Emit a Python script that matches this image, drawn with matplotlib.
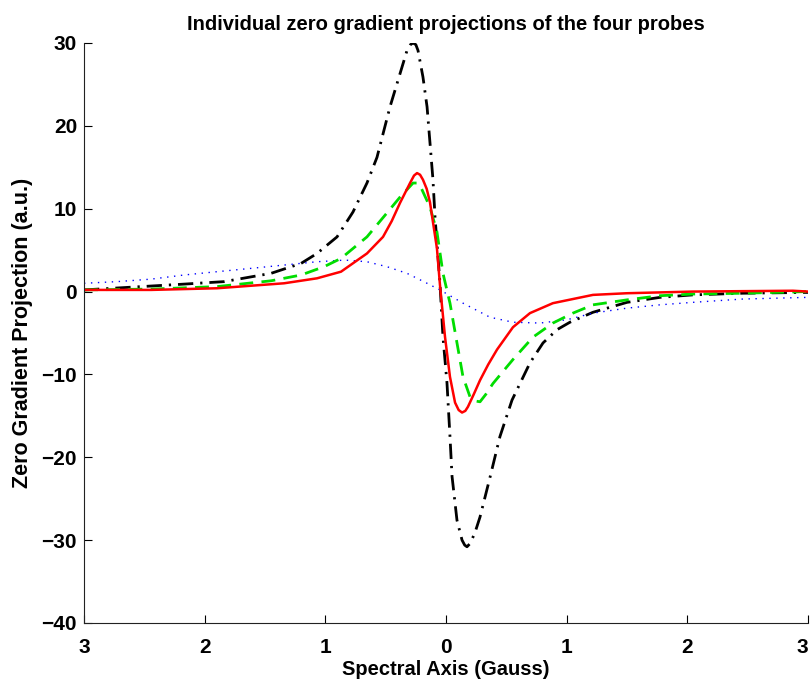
import matplotlib
matplotlib.use("Agg")
import matplotlib.pyplot as plt

plt.rcParams['font.family'] = ['Liberation Sans', 'DejaVu Sans']

# ---- data (x in Gauss, y in a.u.) ----
black_x = [-3.0, -2.585, -2.171, -1.839, -1.450, -1.201, -1.069, -0.903, -0.771, -0.655,
           -0.572, -0.464, -0.381, -0.323, -0.295, -0.273, -0.250, -0.232, -0.191, -0.157,
           -0.133, -0.108, -0.091, -0.050, -0.025, 0.008, 0.033, 0.050, 0.091, 0.133,
           0.155, 0.174, 0.200, 0.240, 0.282, 0.365, 0.447, 0.547, 0.696, 0.804,
           0.920, 1.027, 1.218, 1.500, 1.773, 2.046, 2.461, 3.0]
black_y = [0.2, 0.55, 0.9, 1.2, 2.2, 3.4, 4.6, 6.6, 9.6, 13.1,
           16.2, 22.3, 26.3, 29.1, 29.8, 30.0, 29.8, 29.1, 25.9, 22.3,
           18.0, 13.5, 9.0, 1.0, -5.5, -11.0, -17.5, -22.3, -27.6, -30.0,
           -30.6, -30.8, -30.4, -29.1, -27.2, -22.4, -17.5, -13.1, -8.6, -6.2,
           -4.6, -3.7, -2.5, -1.3, -0.7, -0.4, -0.2, -0.1]

red_x = [-3.0, -2.444, -1.897, -1.342, -1.069, -0.870, -0.655, -0.522, -0.450, -0.381,
         -0.298, -0.265, -0.240, -0.215, -0.191, -0.160, -0.133, -0.075, -0.050, -0.008,
         0.033, 0.075, 0.105, 0.133, 0.160, 0.182, 0.230, 0.282, 0.350, 0.423,
         0.555, 0.696, 0.886, 1.085, 1.218, 1.500, 2.046, 2.875, 3.0]
red_y = [0.2, 0.2, 0.4, 1.0, 1.6, 2.4, 4.6, 6.6, 8.5, 10.7,
         13.1, 14.0, 14.3, 14.1, 13.5, 12.4, 10.8, 5.2, 0.8, -5.5,
         -10.3, -13.4, -14.3, -14.6, -14.4, -13.9, -12.4, -10.7, -8.8, -7.0,
         -4.3, -2.6, -1.4, -0.8, -0.4, -0.2, 0.0, 0.1, 0.0]

green_x = [-3.0, -2.444, -1.897, -1.450, -1.201, -1.011, -0.870, -0.655, -0.489, -0.381,
           -0.273, -0.240, -0.215, -0.133, -0.075, -0.025, 0.033, 0.091, 0.141, 0.199,
           0.240, 0.282, 0.330, 0.389, 0.555, 0.721, 0.886, 1.052, 1.218, 1.500,
           1.773, 2.046, 2.461, 3.0]
green_y = [0.2, 0.3, 0.6, 1.3, 2.0, 3.0, 4.0, 6.6, 9.5, 11.4,
           13.1, 13.1, 12.8, 10.2, 7.2, 2.2, -1.4, -6.2, -10.3, -12.7,
           -13.2, -13.3, -12.4, -11.1, -8.2, -5.5, -3.8, -2.6, -1.6, -1.0,
           -0.5, -0.3, -0.2, 0.0]

blue_x = [-3.0, -2.726, -2.444, -2.171, -1.897, -1.616, -1.342, -1.069, -0.837, -0.655,
          -0.489, -0.323, -0.157, -0.050, 0.141, 0.365, 0.555, 0.779, 1.002, 1.218,
          1.500, 1.773, 2.046, 2.461, 3.0]
blue_y = [1.0, 1.2, 1.5, 2.0, 2.4, 2.8, 3.2, 3.6, 3.8, 3.6,
          3.0, 2.2, 1.0, 0.2, -1.4, -3.1, -3.7, -3.8, -3.4, -2.6,
          -2.0, -1.6, -1.3, -0.9, -0.7]

x_ticks = [-3, -2, -1, 0, 1, 2, 3]
x_ticklabels = ['3', '2', '1', '0', '1', '2', '3']
y_ticks = [-40, -30, -20, -10, 0, 10, 20, 30]
y_ticklabels = ['\u221240', '\u221230', '\u221220', '\u221210', '0', '10', '20', '30']

title = 'Individual zero gradient projections of the four probes'
xlabel = 'Spectral Axis (Gauss)'
ylabel = 'Zero Gradient Projection (a.u.)'

fig = plt.figure(figsize=(8.12, 6.82), dpi=100)
ax = fig.add_axes([84/812, 59/682, 724/812, 580/682])

ax.plot(black_x, black_y, color='black', lw=2.0, linestyle=(0, (5.5, 2.5, 0.8, 2.5)))
ax.plot(blue_x, blue_y, color='blue', lw=1.0, linestyle=(0, (1, 4)))
ax.plot(green_x, green_y, color='#00dd00', lw=2.0, linestyle=(0, (5, 3)))
ax.plot(red_x, red_y, color='red', lw=1.8, linestyle='-')

ax.set_xlim(-3, 3)
ax.set_ylim(-40, 30)
ax.set_xticks(x_ticks)
ax.set_xticklabels(x_ticklabels)
ax.set_yticks(y_ticks)
ax.set_yticklabels(y_ticklabels)
ax.spines['top'].set_visible(False)
ax.spines['right'].set_visible(False)
for s in ('left', 'bottom'):
    ax.spines[s].set_linewidth(0.8)
    ax.spines[s].set_color('#222222')
ax.tick_params(direction='in', length=6, width=0.8, labelsize=15)
ax.tick_params(axis='x', pad=11)
ax.tick_params(axis='y', pad=5)
for lab in ax.get_xticklabels() + ax.get_yticklabels():
    lab.set_fontweight('bold')
ax.get_xticklabels()[-1].set_horizontalalignment('right')
ax.get_xticklabels()[0].set_horizontalalignment('center')

ax.set_title(title, fontsize=14.5, fontweight='bold', pad=9)
ax.set_xlabel(xlabel, fontsize=14.5, fontweight='bold')
ax.xaxis.set_label_coords(0.5, -0.063)
ax.set_ylabel(ylabel, fontsize=15.5, fontweight='bold')
ax.yaxis.set_label_coords(-0.07, 0.5)

fig.savefig('out.png', dpi=100)
